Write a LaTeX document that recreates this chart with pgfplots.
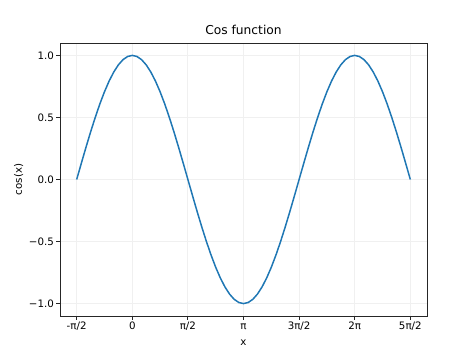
\documentclass[border=0pt]{standalone}
\usepackage{pgfplots}
\pgfplotsset{compat=1.18}
\usepackage{fontspec}
\setmainfont{DejaVu Sans}
\definecolor{mplblue}{HTML}{1F77B4}
\pgfplotstableread{
x y
-90 0
-82.5 0.1305
-75 0.2588
-67.5 0.3827
-60 0.5
-52.5 0.6088
-45 0.7071
-37.5 0.7934
-30 0.8660
-22.5 0.9239
-15 0.9659
-7.5 0.9914
0 1
7.5 0.9914
15 0.9659
22.5 0.9239
30 0.8660
37.5 0.7934
45 0.7071
52.5 0.6088
60 0.5
67.5 0.3827
75 0.2588
82.5 0.1305
90 0
97.5 -0.1305
105 -0.2588
112.5 -0.3827
120 -0.5
127.5 -0.6088
135 -0.7071
142.5 -0.7934
150 -0.8660
157.5 -0.9239
165 -0.9659
172.5 -0.9914
180 -1
187.5 -0.9914
195 -0.9659
202.5 -0.9239
210 -0.8660
217.5 -0.7934
225 -0.7071
232.5 -0.6088
240 -0.5
247.5 -0.3827
255 -0.2588
262.5 -0.1305
270 0
277.5 0.1305
285 0.2588
292.5 0.3827
300 0.5
307.5 0.6088
315 0.7071
322.5 0.7934
330 0.8660
337.5 0.9239
345 0.9659
352.5 0.9914
360 1
367.5 0.9914
375 0.9659
382.5 0.9239
390 0.8660
397.5 0.7934
405 0.7071
412.5 0.6088
420 0.5
427.5 0.3827
435 0.2588
442.5 0.1305
450 0
}\cosdata
\begin{document}
\begin{tikzpicture}
\begin{axis}[
  scale only axis,
  width=367bp, height=273bp,
  xmin=-117, xmax=477,
  ymin=-1.1, ymax=1.1,
  xtick={-90,0,90,180,270,360,450},
  xticklabels={-π/2,0,π/2,π,3π/2,2π,5π/2},
  ytick={-1,-0.5,0,0.5,1},
  yticklabels={−1.0,−0.5,0.0,0.5,1.0},
  tick align=outside,
  tick pos=left,
  major tick length=3.6bp,
  tick style={black!85, line width=0.8bp},
  axis line style={black!85, line width=0.8bp},
  grid=major,
  grid style={black!6, line width=0.8bp},
  ticklabel style={font=\fontsize{10.3}{12}\selectfont},
  xticklabel style={text height=7.6bp, text depth=2.2bp, inner sep=2bp},
  yticklabel style={xshift=1bp},
  xlabel={x}, ylabel={cos(x)},
  label style={font=\fontsize{10.3}{12}\selectfont},
  xlabel style={text height=7.6bp, text depth=2.2bp, yshift=-1bp},
  ylabel style={yshift=-1bp},
  title={Cos function},
  title style={font=\fontsize{12.3}{14}\selectfont, yshift=-1bp},
]
\addplot[mplblue, line width=1.5bp] table {\cosdata};
\end{axis}
\path[use as bounding box] (-60bp,-39bp) rectangle (414bp,316bp);
\end{tikzpicture}
\end{document}
